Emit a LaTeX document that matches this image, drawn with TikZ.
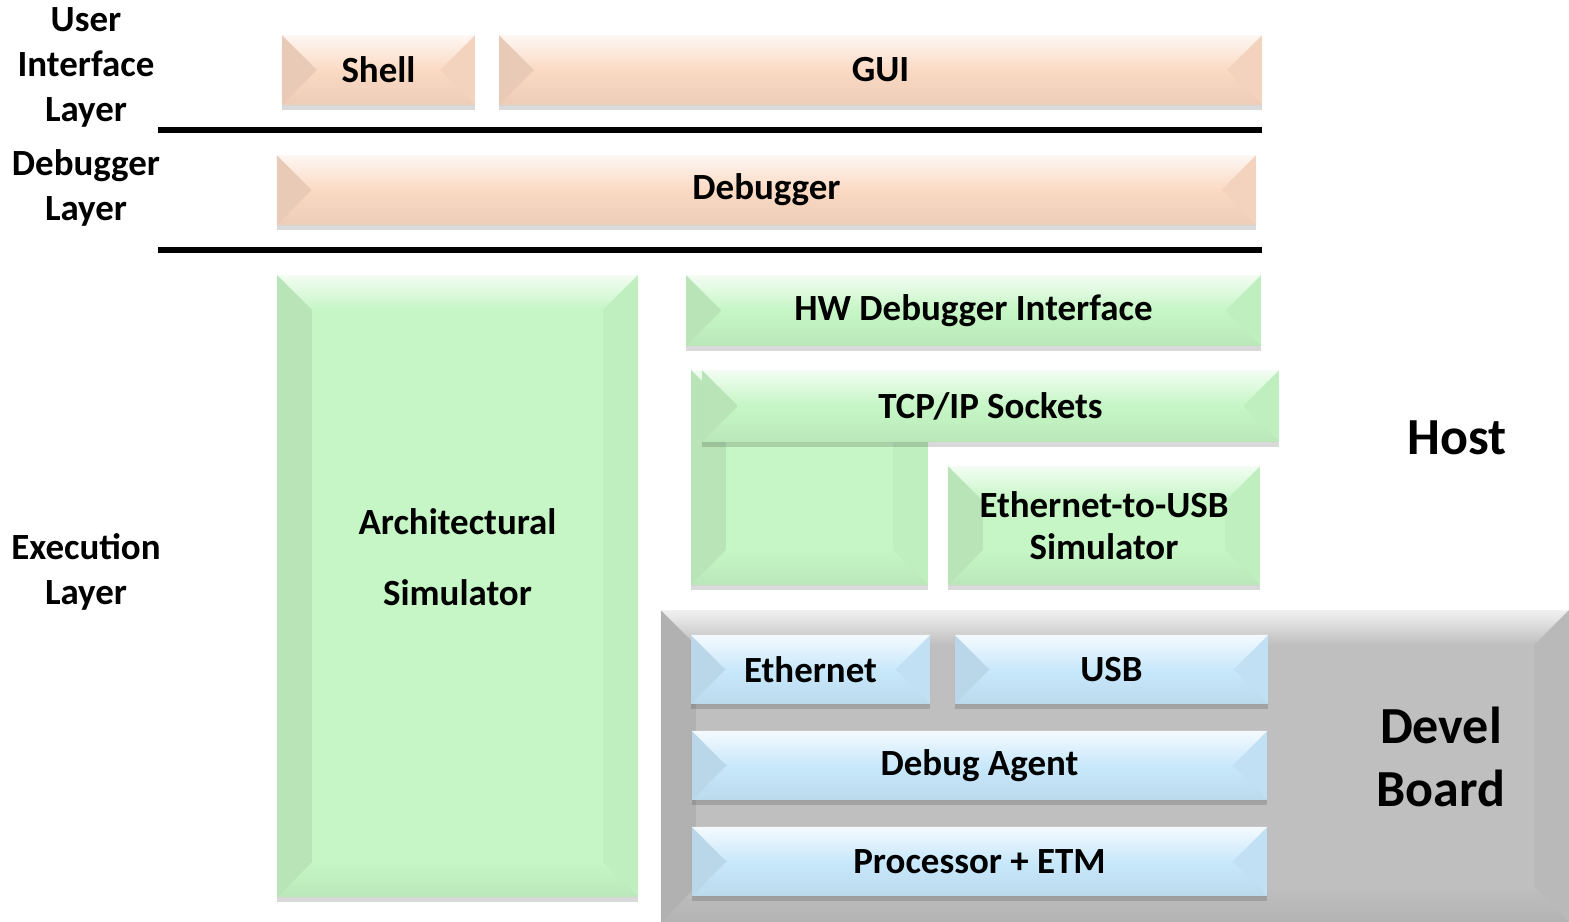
\documentclass[tikz,border=0pt]{standalone}
\usepackage{fontspec}
\setmainfont{Carlito}
\usepackage{tikz}
\usetikzlibrary{positioning, calc, shadows, fadings}

\definecolor{peach}{RGB}{251,218,196}
\definecolor{mint}{RGB}{198,246,198}
\definecolor{sky}{RGB}{200,232,251}
\definecolor{board}{RGB}{191,191,191}

\newcommand{\bev}{0.35cm}

\tikzset{
  slab/.style={fill=#1, draw=none, inner sep=0pt, align=center,
    font=\fontsize{10.5}{12.8}\selectfont\bfseries,
    drop shadow={shadow xshift=0pt, shadow yshift=-0.5mm, opacity=0.15, fill=black},
    path picture={
      \path (path picture bounding box.north west) coordinate (pnw)
            (path picture bounding box.south east) coordinate (pse);
      % top face, lit
      \fill[white,opacity=.8,path fading=south] (pnw) -- (pnw -| pse) -- ([xshift=-\bev,yshift=-\bev]pnw -| pse)
        -- ([xshift=\bev,yshift=-\bev]pnw) -- cycle;
      % left face
      \fill[black,opacity=.07] (pnw) -- ([xshift=\bev,yshift=-\bev]pnw)
        -- ([xshift=\bev,yshift=\bev]pnw |- pse) -- (pnw |- pse) -- cycle;
      % right face
      \fill[black,opacity=.03] (pnw -| pse) -- (pse) -- ([xshift=-\bev,yshift=\bev]pse)
        -- ([xshift=-\bev,yshift=-\bev]pnw -| pse) -- cycle;
      % bottom face
      \fill[black,opacity=.06,path fading=north] (pnw |- pse) -- ([xshift=\bev,yshift=\bev]pnw |- pse)
        -- ([xshift=-\bev,yshift=\bev]pse) -- (pse) -- cycle;
    }},
  lbl/.style={align=center, inner sep=0pt, font=\fontsize{10.5}{12.8}\selectfont\bfseries},
  big/.style={align=center, inner sep=0pt, font=\fontsize{14.8}{17.9}\selectfont\bfseries},
  sep/.style={line width=0.06cm}
}

\begin{document}
\begin{tikzpicture}[x=0.01cm, y=-0.01cm]
    \useasboundingbox (0,0) rectangle (1569,922);

    % layer names
    \node[lbl] (ui)  at (86,67)  {User\\Interface\\Layer};
    \node[lbl] (dbl) at (86,188) {Debugger\\Layer};
    \node[lbl] (exl) at (86,572) {Execution\\Layer};

    % separators
    \coordinate (s1a) at (158,130); \coordinate (s1b) at (1262,130);
    \coordinate (s2a) at (158,250); \coordinate (s2b) at (1262,250);
    \draw[sep] (s1a) -- (s1b);
    \draw[sep] (s2a) -- (s2b);

    % user interface layer
    \node[slab=peach, minimum width=1.93cm, minimum height=0.70cm] (shell) at (378.5,70) {Shell};
    \node[slab=peach, minimum width=7.63cm, minimum height=0.70cm] (gui) at (880.5,70) {GUI};

    % debugger layer
    \node[slab=peach, minimum width=9.79cm, minimum height=0.70cm] (debugger) at (766.5,190) {Debugger};

    % execution layer, host side
    \node[slab=mint, minimum width=3.61cm, minimum height=6.22cm] (archsim) at (457.5,586) {};
    \node[lbl, font=\fontsize{10.5}{20.2}\selectfont\bfseries] (archtxt) at (457.5,557) {Architectural\\Simulator};
    \node[slab=mint, minimum width=5.75cm, minimum height=0.71cm] (hwdbg) at (973.5,310.5) {HW Debugger Interface};
    \node[slab=mint, minimum width=2.37cm, minimum height=2.15cm] (tcpbase) at (809.5,477.5) {};
    \node[slab=mint, minimum width=5.77cm, minimum height=0.72cm] (tcp) at (990.5,406) {TCP/IP Sockets};
    \node[slab=mint, minimum width=3.12cm, minimum height=1.19cm] (e2usb) at (1104,525.5) {Ethernet-to-USB\\[-1pt]Simulator};
    \node[big] (host) at (1457,438) {Host};

    % execution layer, board side
    \node[slab=board, minimum width=9.08cm, minimum height=3.12cm] (devel) at (1115,766) {};
    \node[slab=sky, minimum width=2.39cm, minimum height=0.69cm] (eth) at (810.5,669.5) {Ethernet};
    \node[slab=sky, minimum width=3.13cm, minimum height=0.69cm] (usb) at (1111.5,669.5) {USB};
    \node[slab=sky, minimum width=5.75cm, minimum height=0.69cm] (agent) at (979.5,765.5) {Debug Agent};
    \node[slab=sky, minimum width=5.75cm, minimum height=0.69cm] (proc) at (979.5,861.5) {Processor + ETM};
    \node[big] (boardtxt) at (1441,757) {Devel\\Board};
\end{tikzpicture}
\end{document}
